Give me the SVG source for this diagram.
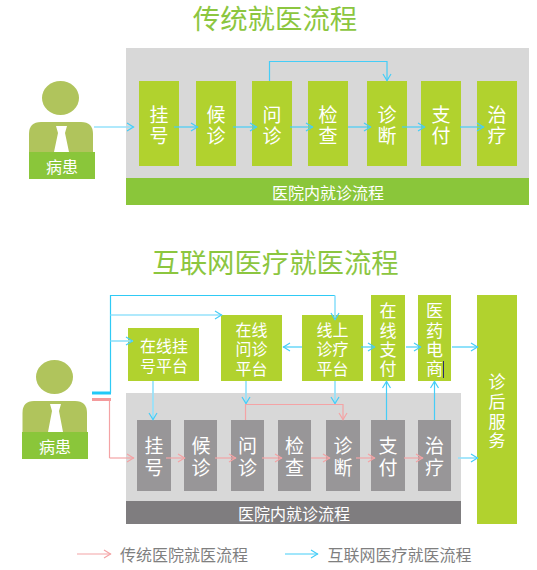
<svg xmlns="http://www.w3.org/2000/svg" width="537" height="570" viewBox="0 0 537 570">
<style>
text{font-family:"Noto Sans CJK SC","Noto Sans",sans-serif;text-anchor:middle;dominant-baseline:central;fill:#fff}
.t{font-size:27.4px;fill:#8cc63f}
.l{font-size:16px;fill:#7f7f7f}
.s{font-size:16px}
.b{font-size:19px}
.v{font-size:17px}
.panel{fill:#d8d8d8}
.g{fill:#b1d22e}
.bar{fill:#8ac63a}
.gr{fill:#989698}
.dk{fill:#7f7d7f}
.p{fill:#b0c45c}
.c{fill:none;stroke-width:1.2}
.bl{stroke:#45cdf7;marker-end:url(#ab)}
.pl{stroke:#96e2fb;stroke-width:1.7;marker-end:url(#ab)}
.pk{stroke:#f4a3a5;marker-end:url(#ap)}
.bn{stroke:#2fcaf5;fill:none;stroke-width:1.2}
.pn{stroke:#f4a3a5;fill:none;stroke-width:1.2}
</style>
<defs>
<marker id="ab" markerUnits="userSpaceOnUse" markerWidth="12" markerHeight="12" refX="9" refY="5" orient="auto"><path d="M2 1L8.500 5L2 9" fill="none" stroke="#45cdf7" stroke-width="1.2"/></marker>
<marker id="ap" markerUnits="userSpaceOnUse" markerWidth="12" markerHeight="12" refX="9" refY="5" orient="auto"><path d="M2 1L8.500 5L2 9" fill="none" stroke="#f4a3a5" stroke-width="1.2"/></marker>
</defs>
<text class="t" x="275" y="16.500">传统就医流程</text>
<text class="t" x="275.500" y="260.500">互联网医疗就医流程</text>
<g id="panel-top"><rect class="panel" x="126" y="48" width="403" height="130"/><rect class="bar" x="126" y="178" width="403" height="27"/><text class="s" x="328" y="192">医院内就诊流程</text></g>
<g id="patient-top"><ellipse class="p" cx="60.500" cy="98" rx="18.500" ry="17"/><path class="p" d="M29 152V134Q29 122 41 122H81Q93 122 93 134V152Z"/><path fill="#fff" d="M56 126H67L65 133L69 152H54L58 133Z"/><rect class="bar" x="29" y="152" width="66" height="27"/><text class="s" x="62" y="166">病患</text></g>
<g id="t1"><rect class="g" x="139" y="81" width="40" height="85"/><text class="b"><tspan x="159" y="113">挂</tspan><tspan x="159" y="134">号</tspan></text></g>
<g id="t2"><rect class="g" x="196" y="81" width="40" height="85"/><text class="b"><tspan x="216" y="113">候</tspan><tspan x="216" y="134">诊</tspan></text></g>
<g id="t3"><rect class="g" x="252" y="81" width="40" height="85"/><text class="b"><tspan x="272" y="113">问</tspan><tspan x="272" y="134">诊</tspan></text></g>
<g id="t4"><rect class="g" x="308" y="81" width="40" height="85"/><text class="b"><tspan x="328" y="113">检</tspan><tspan x="328" y="134">查</tspan></text></g>
<g id="t5"><rect class="g" x="367" y="81" width="40" height="85"/><text class="b"><tspan x="387" y="113">诊</tspan><tspan x="387" y="134">断</tspan></text></g>
<g id="t6"><rect class="g" x="421" y="81" width="40" height="85"/><text class="b"><tspan x="441" y="113">支</tspan><tspan x="441" y="134">付</tspan></text></g>
<g id="t7"><rect class="g" x="477" y="81" width="40" height="85"/><text class="b"><tspan x="497" y="113">治</tspan><tspan x="497" y="134">疗</tspan></text></g>
<g id="panel-bottom"><rect class="panel" x="126" y="393" width="335" height="108"/><rect class="dk" x="126" y="501" width="335" height="23"/><text class="s" x="294" y="512.500">医院内就诊流程</text></g>
<g id="patient-bottom"><ellipse class="p" cx="54.500" cy="377" rx="18.500" ry="17"/><path class="p" d="M22.500 432V413Q22.500 401 34 401H75Q87 401 87 413V432Z"/><path fill="#fff" d="M50 404H61L59 411L63 432H48L52 411Z"/><rect class="bar" x="22" y="432" width="66" height="27"/><text class="s" x="55" y="445.500">病患</text></g>
<g id="b1"><rect class="gr" x="137" y="420" width="34" height="71"/><text class="b"><tspan x="154" y="444">挂</tspan><tspan x="154" y="466">号</tspan></text></g>
<g id="b2"><rect class="gr" x="184" y="420" width="33" height="71"/><text class="b"><tspan x="201" y="444">候</tspan><tspan x="201" y="466">诊</tspan></text></g>
<g id="b3"><rect class="gr" x="231" y="420" width="33" height="71"/><text class="b"><tspan x="247.500" y="444">问</tspan><tspan x="247.500" y="466">诊</tspan></text></g>
<g id="b4"><rect class="gr" x="278" y="420" width="33" height="71"/><text class="b"><tspan x="294.500" y="444">检</tspan><tspan x="294.500" y="466">查</tspan></text></g>
<g id="b5"><rect class="gr" x="326" y="420" width="34" height="71"/><text class="b"><tspan x="343" y="444">诊</tspan><tspan x="343" y="466">断</tspan></text></g>
<g id="b6"><rect class="gr" x="371" y="420" width="34" height="71"/><text class="b"><tspan x="388" y="444">支</tspan><tspan x="388" y="466">付</tspan></text></g>
<g id="b7"><rect class="gr" x="418" y="420" width="33" height="71"/><text class="b"><tspan x="434.500" y="444">治</tspan><tspan x="434.500" y="466">疗</tspan></text></g>
<g id="reg"><rect class="g" x="128" y="328" width="71" height="53"/><text class="s"><tspan x="164" y="345">在线挂</tspan><tspan x="164" y="365">号平台</tspan></text></g>
<g id="consult"><rect class="g" x="221" y="315" width="61" height="66"/><text class="s"><tspan x="251.500" y="329">在线</tspan><tspan x="251.500" y="348">问诊</tspan><tspan x="251.500" y="368">平台</tspan></text></g>
<g id="online"><rect class="g" x="302" y="315" width="61" height="66"/><text class="s"><tspan x="332.500" y="329">线上</tspan><tspan x="332.500" y="348">诊疗</tspan><tspan x="332.500" y="368">平台</tspan></text></g>
<g id="pay"><rect class="g" x="371" y="295" width="34" height="86"/><text class="v"><tspan x="388" y="309">在</tspan><tspan x="388" y="329">线</tspan><tspan x="388" y="348">支</tspan><tspan x="388" y="367">付</tspan></text></g>
<g id="shop"><rect class="g" x="418" y="295" width="33" height="86"/><text class="v"><tspan x="434.500" y="309">医</tspan><tspan x="434.500" y="329">药</tspan><tspan x="434.500" y="348">电</tspan><tspan x="434.500" y="367">商</tspan></text><path d="M443.500 361V378" stroke="#2b2b6b" fill="none"/></g>
<g id="after"><rect class="g" x="477" y="295" width="40" height="229"/><text class="v"><tspan x="497" y="380">诊</tspan><tspan x="497" y="400">后</tspan><tspan x="497" y="420">服</tspan><tspan x="497" y="439">务</tspan></text></g>
<g id="connectors">
<path class="c pl" d="M94 127H134"/><path class="c bl" d="M174 127H198"/><path class="c bl" d="M233 127H257"/><path class="c bl" d="M290 127H313"/><path class="c bl" d="M348 127H371"/><path class="c bl" d="M402 127H425"/><path class="c bl" d="M460 127H484"/>
<path class="c bl" d="M269.500 81V61.500H387V81"/>
<path d="M92 393H111" stroke="#22c9f7" stroke-width="3" fill="none"/><path d="M92 399.500H111" stroke="#f49a9c" stroke-width="3" fill="none"/>
<path class="bn" d="M110.500 393V295.500H335"/>
<path class="c pl" d="M335 295.500V320"/><path class="c pl" d="M110.500 315H222"/><path class="c pl" d="M110.500 341H133"/>
<path class="c pl" d="M153 381V420"/><path class="c pl" d="M246 381V404"/><path class="c pl" d="M335 381V404"/>
<path class="c bl" d="M302 347H283"/><path class="c bl" d="M361 347H375"/><path class="c bl" d="M406 347H421"/><path class="c bl" d="M452 347H478"/><path class="c pl" d="M458 458H478"/>
<path class="c bl" d="M386.500 420V381"/><path class="c bl" d="M434.500 420V381"/>
<path class="pn" d="M109.500 401V458"/>
<path class="c pk" d="M109.500 458H134"/><path class="c pk" d="M166 458H185"/><path class="c pk" d="M215 458H236"/><path class="c pk" d="M262 458H282"/><path class="c pk" d="M311 458H330"/><path class="c pk" d="M356 458H375"/><path class="c pk" d="M404 458H423"/>
<path class="c pk" d="M245.500 420V404.500H343V420"/>
<path class="c pk" d="M77 554H111"/><path class="c bl" d="M285 554H318"/>
</g>
<text class="l" x="184" y="554">传统医院就医流程</text>
<text class="l" x="399.500" y="554">互联网医疗就医流程</text>
</svg>
